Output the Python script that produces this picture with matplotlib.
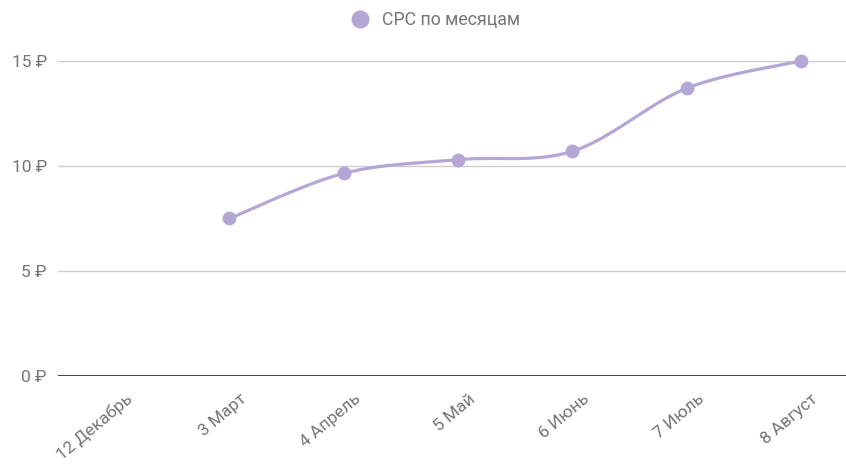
import numpy as np
import matplotlib.pyplot as plt
from matplotlib import transforms

plt.rcParams['font.family'] = ['Roboto', 'DejaVu Sans']

# Данные
months = ['12 Декабрь', '3 Март', '4 Апрель', '5 Май', '6 Июнь', '7 Июль', '8 Август']
cpc = [np.nan, 7.5, 9.65, 10.3, 10.7, 13.7, 15.0]
series_name = 'CPC по месяцам'
yticks = [0, 5, 10, 15]

color = '#b4a7d6'
grey = '#757575'


def smooth(xs, ys, k=0.5, n=40):
    # сглаженная кривая (Catmull-Rom) между точками
    xs = np.asarray(xs, float)
    ys = np.asarray(ys, float)
    px = np.concatenate([[xs[0]], xs, [xs[-1]]])
    py = np.concatenate([[ys[0]], ys, [ys[-1]]])
    out_x, out_y = [], []
    for i in range(1, len(px) - 2):
        t = np.linspace(0, 1, n)
        p0, p1, p2, p3 = (np.array([px[j], py[j]]) for j in range(i - 1, i + 3))
        c1 = p1 + (p2 - p0) * k / 3
        c2 = p2 - (p3 - p1) * k / 3
        b = ((1 - t) ** 3)[:, None] * p1 + (3 * (1 - t) ** 2 * t)[:, None] * c1 \
            + (3 * (1 - t) * t ** 2)[:, None] * c2 + (t ** 3)[:, None] * p2
        out_x.extend(b[:, 0])
        out_y.extend(b[:, 1])
    return np.array(out_x), np.array(out_y)


fig = plt.figure(figsize=(8.46, 4.67), dpi=100)
ax = fig.add_axes([0.0686, 0.1949, 0.9314, 0.6745])

x = np.arange(len(months))
vals = np.array(cpc)
mask = ~np.isnan(vals)
sx, sy = smooth(x[mask], vals[mask], k=0.5)
ax.plot(sx, sy, color=color, lw=2.3, solid_capstyle='round', clip_on=False, zorder=3)
ax.plot(x[mask], vals[mask], 'o', color=color, ms=10, mew=0, clip_on=False, zorder=4)

ax.set_xlim(-0.5, 6.394)
ax.set_ylim(0, 15)
for v in yticks:
    ax.axhline(v, color='#333333' if v == 0 else '#cccccc', lw=1.3 if v == 0 else 1, zorder=1)

for s in ax.spines.values():
    s.set_visible(False)
ax.tick_params(length=0, pad=8)
ax.set_yticks(yticks)
ax.set_yticklabels([f'{v} ₽' for v in yticks], color=grey, fontsize=12.5)
ax.set_xticks(x)
ax.set_xticklabels(months, color=grey, fontsize=12.5, rotation=40,
                   ha='right', va='center', rotation_mode='anchor')
for lbl in ax.get_xticklabels():
    lbl.set_transform(lbl.get_transform() + transforms.ScaledTranslation(0.15, -0.1, fig.dpi_scale_trans))

fig.legend([plt.Line2D([], [], marker='o', ls='', color=color, ms=13, mew=0)], [series_name],
           loc='center', bbox_to_anchor=(0.514, 0.957), frameon=False, fontsize=12.8,
           labelcolor=grey, handletextpad=0.65, handlelength=1.2)

fig.savefig('out.png', dpi=100)
